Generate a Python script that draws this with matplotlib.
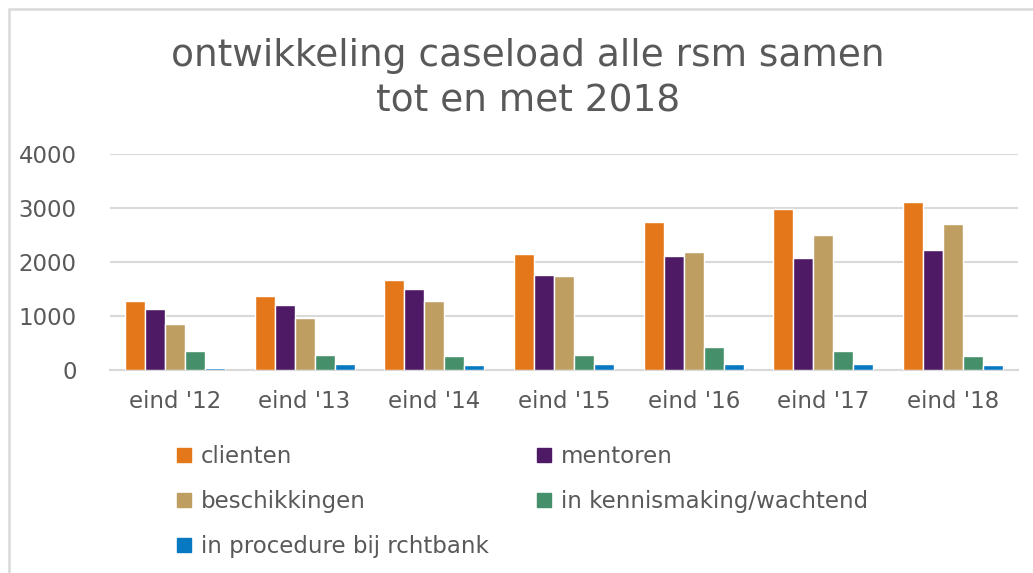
import matplotlib
matplotlib.use("Agg")
import matplotlib.pyplot as plt
import numpy as np
from matplotlib.patches import Rectangle
from matplotlib.lines import Line2D

categories = ["eind '12", "eind '13", "eind '14", "eind '15", "eind '16", "eind '17", "eind '18"]
series_names = ["clienten", "mentoren", "beschikkingen", "in kennismaking/wachtend", "in procedure bij rchtbank"]
clienten = [1280, 1380, 1670, 2150, 2750, 2990, 3105]
mentoren = [1135, 1205, 1495, 1755, 2115, 2070, 2220]
beschikkingen = [855, 965, 1280, 1745, 2180, 2495, 2705]
kennismaking = [355, 275, 270, 275, 430, 355, 270]
procedure = [40, 110, 100, 110, 115, 110, 90]
colors = ["#E4771A", "#4E1A66", "#BF9E62", "#458F6A", "#0679C2"]
yticks = [0, 1000, 2000, 3000, 4000]

text_color = "#595959"
plt.rcParams['font.family'] = ['DejaVu Sans']

fig = plt.figure(figsize=(10.33, 5.73), dpi=100)
ax = fig.add_axes([110/1033, 1-370.3/573, (1018-110)/1033, (370.3-154)/573])

data = [clienten, mentoren, beschikkingen, kennismaking, procedure]
x = np.arange(len(categories))
step = 0.154
for i, (vals, c, name) in enumerate(zip(data, colors, series_names)):
    ax.bar(x + (i - 2) * step, vals, width=step, color=c, edgecolor="white",
           linewidth=1.0, label=name, zorder=3)

ax.set_xlim(-0.5, len(categories) - 0.5)
ax.set_ylim(0, 4000)
ax.set_yticks(yticks)
ax.set_yticklabels([str(v) for v in yticks])
ax.set_xticks(x)
ax.set_xticklabels(categories)
ax.yaxis.grid(True, color="#D9D9D9", linewidth=1.5, zorder=0)
ax.set_axisbelow(True)
for s in ["top", "right", "left"]:
    ax.spines[s].set_visible(False)
ax.spines["bottom"].set_color("#D9D9D9")
ax.spines["bottom"].set_linewidth(1.5)
ax.tick_params(axis="both", length=0, labelsize=16.5, colors=text_color)
ax.tick_params(axis="y", pad=24)
ax.tick_params(axis="x", pad=14)

fig.text(528/1033, 1-56/573, "ontwikkeling caseload alle rsm samen", ha="center", va="center",
         fontsize=27, color=text_color)
fig.text(528/1033, 1-101/573, "tot en met 2018", ha="center", va="center",
         fontsize=27, color=text_color)

order = [0, 2, 4, 1, 3]
handles = [Line2D([], [], marker="s", linestyle="none", markersize=9.5,
                  markerfacecolor=colors[i], markeredgecolor=colors[i]) for i in order]
labels = [series_names[i] for i in order]
fig.legend(handles, labels, loc="upper left", bbox_to_anchor=(177/1033, 1-445/573),
           ncol=2, frameon=False, fontsize=16.5, labelcolor=text_color,
           handlelength=0.6, handletextpad=0.45, labelspacing=0.97, columnspacing=2.1,
           borderpad=0, borderaxespad=0)

# outer chart frame (partially cropped)
fig.patches.append(Rectangle((8.5/1033, -0.1), 1.2, 1 - 9.5/573 + 0.1, transform=fig.transFigure,
                             fill=False, edgecolor="#D9D9D9", linewidth=1.8))

fig.savefig("out.png", dpi=100)
